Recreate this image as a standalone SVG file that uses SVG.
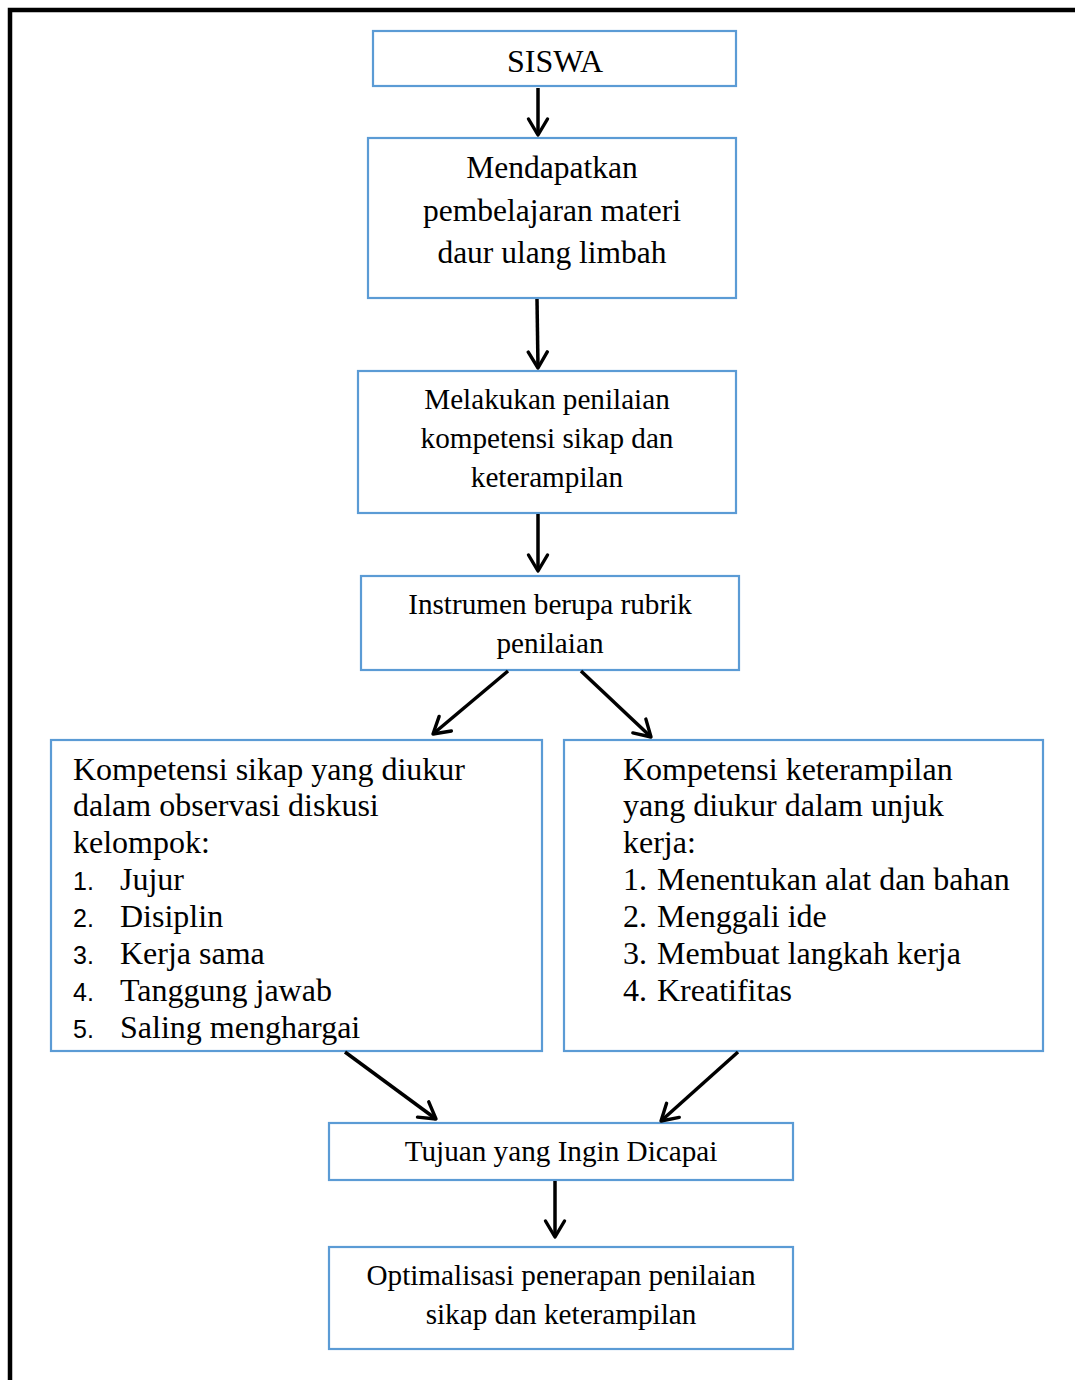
<svg xmlns="http://www.w3.org/2000/svg" width="1075" height="1380" viewBox="0 0 1075 1380">
<defs>
<marker id="ah" viewBox="0 0 24 24" refX="20" refY="12" markerWidth="24" markerHeight="24" markerUnits="userSpaceOnUse" orient="auto">
<path d="M4,2.5 L20,12 L4,21.5" fill="none" stroke="#000" stroke-width="3.4" stroke-linecap="round" stroke-linejoin="round"/>
</marker>
<style>
.box{fill:#fff;stroke:#5B9BD5;stroke-width:2.2}
.t{font-family:"Liberation Serif","Times New Roman",serif;fill:#000}
.n{font-family:"Liberation Sans",Arial,sans-serif;fill:#000}
.c{text-anchor:middle}
.conn line{stroke:#000;stroke-width:3.5;marker-end:url(#ah)}
</style>
</defs>
<rect x="0" y="0" width="1075" height="1380" fill="#fff"/>
<path d="M10,1380 L10,10 L1075,10" fill="none" stroke="#000" stroke-width="4.5"/>

<g id="siswa">
<rect class="box" x="373" y="31" width="363" height="55"/>
<text class="t c" x="555" y="72" font-size="32">SISWA</text>
</g>
<g id="mendapatkan">
<rect class="box" x="368" y="138" width="368" height="160"/>
<text class="t c" font-size="31.5"><tspan x="552" y="178">Mendapatkan</tspan><tspan x="552" y="221">pembelajaran materi</tspan><tspan x="552" y="263">daur ulang limbah</tspan></text>
</g>
<g id="melakukan">
<rect class="box" x="358" y="371" width="378" height="142"/>
<text class="t c" font-size="29.2"><tspan x="547" y="409">Melakukan penilaian</tspan><tspan x="547" y="448">kompetensi sikap dan</tspan><tspan x="547" y="487">keterampilan</tspan></text>
</g>
<g id="instrumen">
<rect class="box" x="361" y="576" width="378" height="94"/>
<text class="t c" font-size="29.2"><tspan x="550" y="614">Instrumen berupa rubrik</tspan><tspan x="550" y="653">penilaian</tspan></text>
</g>
<g id="sikap">
<rect class="box" x="51" y="740" width="491" height="311"/>
<text class="t" font-size="32"><tspan x="73" y="780">Kompetensi sikap yang diukur</tspan><tspan x="73" y="816">dalam observasi diskusi</tspan><tspan x="73" y="853">kelompok:</tspan></text>
<text class="n" font-size="25"><tspan x="73" y="890">1.</tspan><tspan x="73" y="927">2.</tspan><tspan x="73" y="964">3.</tspan><tspan x="73" y="1001">4.</tspan><tspan x="73" y="1038">5.</tspan></text>
<text class="t" font-size="32"><tspan x="120" y="890">Jujur</tspan><tspan x="120" y="927">Disiplin</tspan><tspan x="120" y="964">Kerja sama</tspan><tspan x="120" y="1001">Tanggung jawab</tspan><tspan x="120" y="1038">Saling menghargai</tspan></text>
</g>
<g id="keterampilan">
<rect class="box" x="564" y="740" width="479" height="311"/>
<text class="t" font-size="32"><tspan x="623" y="780">Kompetensi keterampilan</tspan><tspan x="623" y="816">yang diukur dalam unjuk</tspan><tspan x="623" y="853">kerja:</tspan><tspan x="623" y="890">1.</tspan><tspan x="623" y="927">2.</tspan><tspan x="623" y="964">3.</tspan><tspan x="623" y="1001">4.</tspan></text>
<text class="t" font-size="32"><tspan x="657" y="890">Menentukan alat dan bahan</tspan><tspan x="657" y="927">Menggali ide</tspan><tspan x="657" y="964">Membuat langkah kerja</tspan><tspan x="657" y="1001">Kreatifitas</tspan></text>
</g>
<g id="tujuan">
<rect class="box" x="329" y="1123" width="464" height="57"/>
<text class="t c" x="561" y="1161" font-size="29.2">Tujuan yang Ingin Dicapai</text>
</g>
<g id="optimalisasi">
<rect class="box" x="329" y="1247" width="464" height="102"/>
<text class="t c" font-size="29.2"><tspan x="561" y="1285">Optimalisasi penerapan penilaian</tspan><tspan x="561" y="1324">sikap dan keterampilan</tspan></text>
</g>

<g class="conn" id="connectors">
<line x1="538" y1="88" x2="538" y2="135"/>
<line x1="537" y1="299" x2="538" y2="368"/>
<line x1="538" y1="514" x2="538" y2="571"/>
<line x1="508" y1="671" x2="433" y2="734"/>
<line x1="581" y1="671" x2="651" y2="737"/>
<line x1="345" y1="1052" x2="436" y2="1119"/>
<line x1="738" y1="1052" x2="661" y2="1121"/>
<line x1="555" y1="1181" x2="555" y2="1237"/>
</g>
</svg>
